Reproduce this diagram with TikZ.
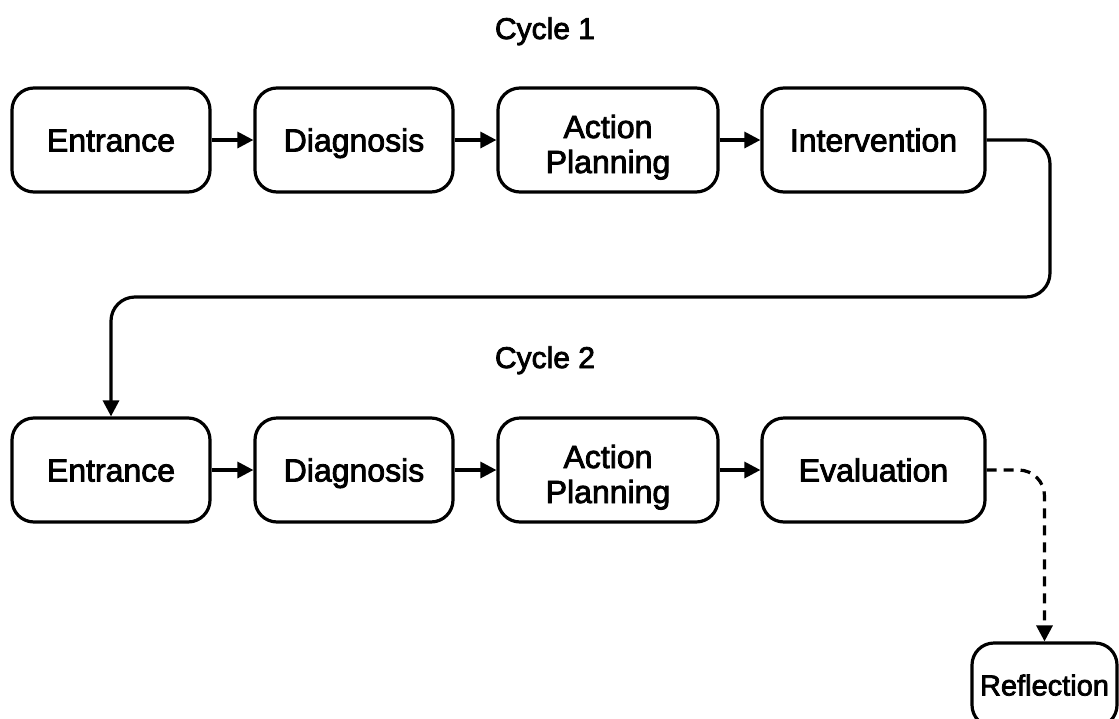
\documentclass[tikz,border=0pt]{standalone}
\usepackage{fontspec}
\setmainfont{Liberation Sans}[FakeBold=2.6]
\usetikzlibrary{arrows.meta}
\tikzset{
  stage/.style={draw=black, line width=3.2pt, rounded corners=22pt, minimum height=104pt,
    inner sep=0pt, text height=23pt, text depth=0pt, font=\fontsize{32}{35}\selectfont},
  twoline/.style={text height=66pt, text depth=0pt},
  flow/.style={line width=3.2pt, -{Triangle[length=16pt,width=16pt]}},
  title/.style={font=\fontsize{30}{34}\selectfont, text height=22pt, text depth=0pt, inner sep=0pt}
}
\newcommand{\twolines}[2]{\renewcommand{\arraystretch}{1}\begin{tabular}[b]{@{}c@{}}#1\\#2\end{tabular}}
\begin{document}
\begin{tikzpicture}[x=1pt,y=-1pt]
\useasboundingbox (0,0) rectangle (1119,718);
\clip (0,0) rectangle (1119,718);
\node[title] (t1) at (545,28) {Cycle 1};
\node[title] (t2) at (545,357) {Cycle 2};
% row 1
\node[stage, minimum width=198pt] (e1) at (111,140) {Entrance};
\node[stage, minimum width=198pt] (d1) at (354,140) {Diagnosis};
\node[stage, twoline, minimum width=220pt] (a1) at (608,140) {\twolines{Action}{Planning}};
\node[stage, minimum width=223pt] (i1) at (873.5,140) {Intervention};
% row 2
\node[stage, minimum width=198pt] (e2) at (111,470) {Entrance};
\node[stage, minimum width=198pt] (d2) at (354,470) {Diagnosis};
\node[stage, twoline, minimum width=220pt] (a2) at (608,470) {\twolines{Action}{Planning}};
\node[stage, minimum width=223pt] (v2) at (873.5,470) {Evaluation};
\node[stage, minimum width=145pt, minimum height=84pt, text height=21pt, font=\fontsize{29}{32}\selectfont] (r) at (1044.5,685) {Reflection};
\coordinate (turn) at (1050,297);
\draw[flow] (e1) -- (d1);
\draw[flow] (d1) -- (a1);
\draw[flow] (a1) -- (i1);
\draw[flow] (e2) -- (d2);
\draw[flow] (d2) -- (a2);
\draw[flow] (a2) -- (v2);
\draw[flow, rounded corners=24pt] (i1.east) -| (turn) -| (e2.north);
\draw[flow, dashed, dash pattern=on 10pt off 7pt, rounded corners=26pt] (v2.east) -| (r.north);
\end{tikzpicture}
\end{document}
